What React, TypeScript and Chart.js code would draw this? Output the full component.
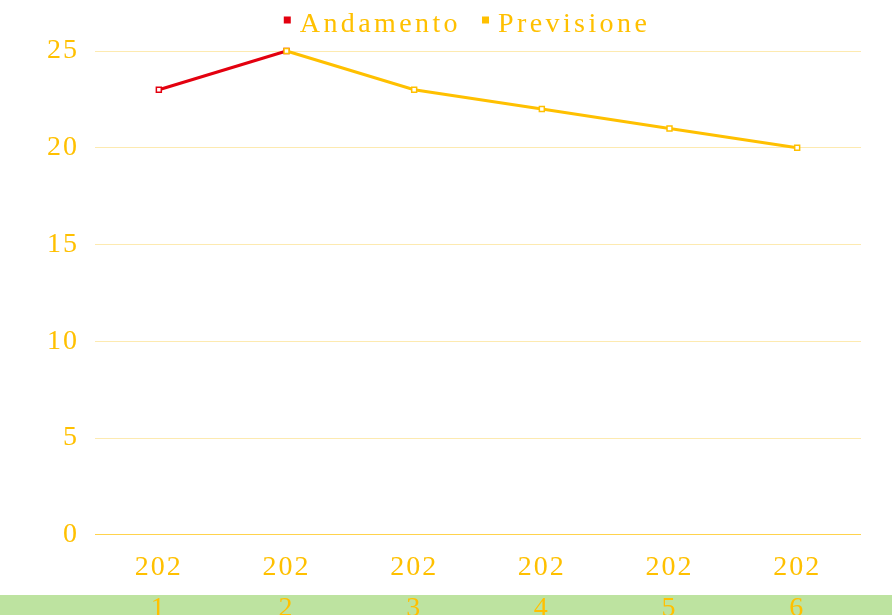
import React, { useEffect, useRef } from "react";
import { Chart, registerables } from "chart.js";

Chart.register(...registerables);

const categories = ["2021", "2022", "2023", "2024", "2025", "2026"];
const andamento = [23, 25, null, null, null, null];
const previsione = [null, 25, 23, 22, 21, 20];
const yTicks = [0, 5, 10, 15, 20, 25];

const RED = "#e3000f";
const GOLD = "#ffc000";
const FONT = "'Liberation Serif', 'Times New Roman', serif";

const spacingPlugin = {
  id: "letterSpacingPlugin",
  beforeUpdate(chart: any) {
    chart.ctx.letterSpacing = "2px";
  },
  beforeLayout(chart: any) {
    chart.ctx.letterSpacing = "2px";
  },
  beforeDraw(chart: any) {
    chart.ctx.letterSpacing = "2px";
  },
};

const legendPlugin = {
  id: "customLegend",
  afterDraw(chart: any) {
    const ctx = chart.ctx;
    ctx.save();
    ctx.letterSpacing = "3.4px";
    ctx.font = `28px ${FONT}`;
    ctx.textBaseline = "alphabetic";
    ctx.textAlign = "left";
    const items = chart.data.datasets.map((d: any) => ({ label: d.label, color: d.borderColor }));
    const box = 7;
    const gapBT = 9;
    const gapItem = 21;
    const widths = items.map((it: any) => box + gapBT + ctx.measureText(it.label).width);
    const total = widths.reduce((a: number, b: number) => a + b, 0) + gapItem * (items.length - 1);
    let x = 467 - total / 2;
    items.forEach((it: any, i: number) => {
      ctx.fillStyle = it.color;
      ctx.fillRect(x, 16.5, box, 7);
      ctx.fillStyle = GOLD;
      ctx.fillText(it.label, x + box + gapBT, 32);
      x += widths[i] + gapItem;
    });
    ctx.restore();
  },
};

export default function App() {
  const ref = useRef<HTMLCanvasElement | null>(null);

  useEffect(() => {
    if (!ref.current) return;
    const chart = new Chart(ref.current, {
      type: "line",
      data: {
        labels: categories,
        datasets: [
          {
            label: "Andamento",
            data: andamento,
            order: 1,
            clip: false,
            borderColor: RED,
            backgroundColor: RED,
            borderWidth: 3,
            pointStyle: "rect",
            pointRadius: 3.5,
            pointBorderWidth: 1.5,
            pointBackgroundColor: "#ffffff",
            pointBorderColor: RED,
            spanGaps: false,
          },
          {
            label: "Previsione",
            data: previsione,
            order: 0,
            clip: false,
            borderColor: GOLD,
            backgroundColor: GOLD,
            borderWidth: 3,
            pointStyle: "rect",
            pointRadius: 3.5,
            pointBorderWidth: 1.5,
            pointBackgroundColor: "#ffffff",
            pointBorderColor: GOLD,
            spanGaps: false,
          },
        ],
      },
      options: {
        animation: false,
        responsive: true,
        maintainAspectRatio: false,
        layout: { padding: { left: 31, right: 31, top: 51, bottom: 0 } },
        plugins: {
          tooltip: { enabled: false },
          legend: { display: false },
        },
        scales: {
          x: {
            offset: true,
            grid: { display: false, drawTicks: false },
            border: { display: false },
            ticks: {
              color: GOLD,
              padding: 13,
              autoSkip: false,
              maxRotation: 0,
              font: { family: FONT, size: 28, lineHeight: 1.45 },
              callback: (_v: any, i: number) => {
                const s = categories[i];
                return [s.slice(0, 3), s.slice(3)];
              },
            },
          },
          y: {
            min: 0,
            max: 25,
            afterBuildTicks: (axis: any) => {
              axis.ticks = yTicks.map((v) => ({ value: v }));
            },
            grid: {
              drawTicks: false,
              color: (ctx: any) => (ctx.index === 0 ? "#ffd34d" : "#fdeab0"),
              lineWidth: 1,
            },
            border: { display: false },
            ticks: {
              color: GOLD,
              padding: 16,
              font: { family: FONT, size: 28 },
            },
          },
        },
      },
      plugins: [spacingPlugin, legendPlugin],
    });
    return () => chart.destroy();
  }, []);

  return (
    <div style={{ position: "fixed", inset: 0, overflow: "hidden", background: "#bde3a0" }}>
      <div style={{ position: "absolute", left: 0, top: 0, width: "100%", height: 595, background: "#ffffff" }} />
      <div style={{ position: "absolute", left: 0, top: 0, width: 892, height: 642 }}>
        <canvas ref={ref} />
      </div>
    </div>
  );
}
